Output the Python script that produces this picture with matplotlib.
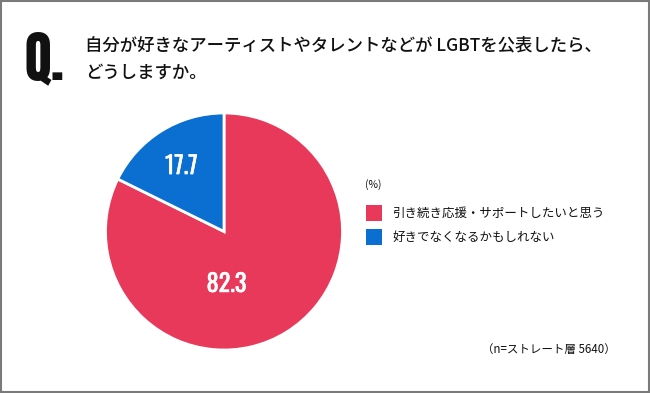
import matplotlib
matplotlib.use("Agg")
import matplotlib.pyplot as plt
from matplotlib.patches import Rectangle
import matplotlib.patheffects as pe
import numpy as np

plt.rcParams['font.family'] = ['Noto Sans CJK JP', 'DejaVu Sans']

categories = ["引き続き応援・サポートしたいと思う", "好きでなくなるかもしれない"]
values = [82.3, 17.7]
colors = ["#E8395A", "#0A6FD0"]
title_lines = ["自分が好きなアーティストやタレントなどが LGBTを公表したら、", "どうしますか。"]
note = "（n=ストレート層 5640）"

W, H = 650, 393
fig = plt.figure(figsize=(W/100, H/100), dpi=100)
fig.patch.set_facecolor("white")

def fx(x): return x / W
def fy(y): return 1 - y / H

# border
fig.add_artist(Rectangle((0.0015, 0.0025), 0.997, 0.995, transform=fig.transFigure,
                         fill=False, edgecolor="#7a7a7a", linewidth=1.5))

# Q.
fig.text(fx(24), fy(80), "Q", fontsize=40, va="baseline", ha="left",
         family=["Anton", "DejaVu Sans"], color="#111111")
fig.text(fx(50), fy(80), ".", fontsize=40, va="baseline", ha="left",
         family=["Anton", "DejaVu Sans"], color="#111111")
fig.text(fx(85), fy(45), title_lines[0], fontsize=12.5, fontweight="medium",
         va="center", ha="left", color="#111111")
fig.text(fx(85), fy(73), title_lines[1], fontsize=12.5, fontweight="medium",
         va="center", ha="left", color="#111111")

# pie
cx, cy, r = 224, 231.5, 118.5
ax = fig.add_axes([fx(cx - r), fy(cy + r), 2*r/W, 2*r/H])
wedges, _ = ax.pie(values, colors=colors, startangle=90, counterclock=False,
                   wedgeprops=dict(edgecolor="white", linewidth=2))
ax.set_aspect("auto")
ax.set_xlim(-1, 1); ax.set_ylim(-1, 1)
ax.axis("off")

label_pos = [(0.022, -0.43), (-0.36, 0.565)]
for v, (lx, ly) in zip(values, label_pos):
    ax.text(lx, ly, f"{v:.1f}", ha="center", va="center_baseline", color="white",
            fontsize=17.5, family=["Oswald", "DejaVu Sans"],
            path_effects=[pe.withStroke(linewidth=0.4, foreground="white")])

# legend
fig.text(fx(365), fy(185), "(%)", fontsize=7.5, va="center", ha="left", color="#111111")
for i, (c, lab) in enumerate(zip(colors, categories)):
    y = 213 + i*24
    fig.add_artist(Rectangle((fx(366), fy(y + 8)), 16/W, 16/H, transform=fig.transFigure,
                             facecolor=c, edgecolor="none"))
    fig.text(fx(392), fy(y), lab, fontsize=9, va="center", ha="left", color="#111111")

fig.text(fx(482), fy(349), note, fontsize=8.3, va="center", ha="left", color="#111111")

fig.savefig("out.png", dpi=100)
